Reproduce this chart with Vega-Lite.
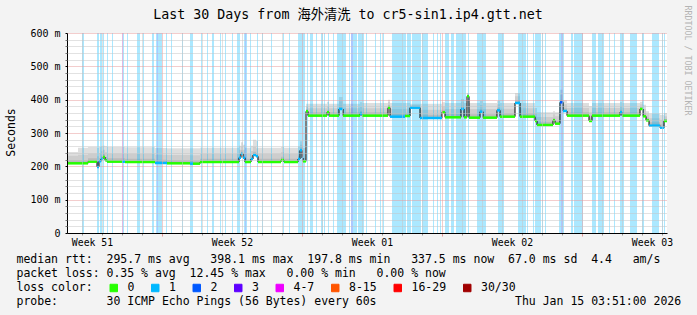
{
  "$schema": "https://vega.github.io/schema/vega-lite/v6.json",
  "width": 600,
  "height": 200,
  "autosize": {"type": "none"},
  "padding": {"left": 67, "top": 33, "right": 30, "bottom": 82},
  "background": "#f3f3f3",
  "config": {"view": {"fill": "#ffffff", "stroke": null}, "font": "DejaVu Sans Mono"},
  "title": {"text": "Last 30 Days from 海外清洗 to cr5-sin1.ip4.gtt.net", "font": "DejaVu Sans Mono, Noto Sans CJK SC", "fontSize": 13.3, "fontWeight": "normal", "color": "#000000", "anchor": "middle", "frame": "group", "dx": -19, "dy": 20},
  "datasets": {
    "smoke": [
      {"d":0,"dn":0.55,"med":209,"a":219,"b":232,"top":243,"loss":"0"},
      {"d":0.55,"dn":1.05,"med":209,"a":219,"b":235,"top":256,"loss":"0"},
      {"d":1.05,"dn":1.5,"med":214,"a":224,"b":238,"top":258,"loss":"0"},
      {"d":1.5,"dn":1.6,"med":198,"a":210,"b":230,"top":256,"loss":"1"},
      {"d":1.6,"dn":1.7,"med":215,"a":225,"b":240,"top":258,"loss":"1"},
      {"d":1.7,"dn":1.8,"med":222,"a":232,"b":245,"top":260,"loss":"1"},
      {"d":1.8,"dn":1.9,"med":228,"a":238,"b":250,"top":262,"loss":"0"},
      {"d":1.9,"dn":2.0,"med":218,"a":228,"b":242,"top":260,"loss":"0"},
      {"d":2.0,"dn":2.75,"med":214,"a":224,"b":238,"top":258,"loss":"0"},
      {"d":2.75,"dn":2.9,"med":214,"a":224,"b":238,"top":258,"loss":"1"},
      {"d":2.9,"dn":4.4,"med":213,"a":223,"b":237,"top":257,"loss":"0"},
      {"d":4.4,"dn":5.0,"med":210,"a":220,"b":235,"top":255,"loss":"1"},
      {"d":5.0,"dn":6.15,"med":209,"a":219,"b":234,"top":254,"loss":"0"},
      {"d":6.15,"dn":6.3,"med":208,"a":218,"b":233,"top":254,"loss":"1"},
      {"d":6.3,"dn":6.65,"med":208,"a":218,"b":233,"top":254,"loss":"0"},
      {"d":6.65,"dn":8.6,"med":213,"a":223,"b":237,"top":256,"loss":"0"},
      {"d":8.6,"dn":8.7,"med":226,"a":236,"b":250,"top":262,"loss":"1"},
      {"d":8.7,"dn":8.8,"med":238,"a":248,"b":260,"top":272,"loss":"1"},
      {"d":8.8,"dn":8.9,"med":226,"a":236,"b":250,"top":265,"loss":"1"},
      {"d":8.9,"dn":9.2,"med":213,"a":223,"b":237,"top":256,"loss":"0"},
      {"d":9.2,"dn":9.3,"med":222,"a":232,"b":246,"top":262,"loss":"1"},
      {"d":9.3,"dn":9.45,"med":234,"a":244,"b":258,"top":280,"loss":"1"},
      {"d":9.45,"dn":9.55,"med":230,"a":240,"b":254,"top":276,"loss":"1"},
      {"d":9.55,"dn":10.7,"med":213,"a":223,"b":237,"top":256,"loss":"0"},
      {"d":10.7,"dn":10.85,"med":219,"a":229,"b":242,"top":258,"loss":"0"},
      {"d":10.85,"dn":11.55,"med":213,"a":223,"b":237,"top":256,"loss":"0"},
      {"d":11.55,"dn":11.65,"med":222,"a":232,"b":246,"top":260,"loss":"1"},
      {"d":11.65,"dn":11.75,"med":248,"a":256,"b":265,"top":275,"loss":"1"},
      {"d":11.75,"dn":11.8,"med":225,"a":235,"b":248,"top":262,"loss":"1"},
      {"d":11.8,"dn":11.95,"med":215,"a":225,"b":240,"top":255,"loss":"0"},
      {"d":11.95,"dn":12.05,"med":365,"a":372,"b":380,"top":388,"loss":"0"},
      {"d":12.05,"dn":13.0,"med":352,"a":362,"b":374,"top":388,"loss":"0"},
      {"d":13.0,"dn":13.1,"med":362,"a":370,"b":380,"top":394,"loss":"0"},
      {"d":13.1,"dn":13.6,"med":352,"a":362,"b":374,"top":388,"loss":"0"},
      {"d":13.6,"dn":13.8,"med":372,"a":382,"b":395,"top":408,"loss":"1"},
      {"d":13.8,"dn":14.65,"med":352,"a":362,"b":374,"top":388,"loss":"0"},
      {"d":14.65,"dn":14.75,"med":358,"a":366,"b":378,"top":392,"loss":"1"},
      {"d":14.75,"dn":16.05,"med":352,"a":362,"b":374,"top":390,"loss":"0"},
      {"d":16.05,"dn":16.15,"med":376,"a":384,"b":392,"top":400,"loss":"0"},
      {"d":16.15,"dn":16.9,"med":349,"a":359,"b":372,"top":390,"loss":"1"},
      {"d":16.9,"dn":17.15,"med":351,"a":361,"b":373,"top":390,"loss":"0"},
      {"d":17.15,"dn":17.65,"med":376,"a":380,"b":384,"top":388,"loss":"1"},
      {"d":17.65,"dn":18.75,"med":345,"a":355,"b":370,"top":388,"loss":"1"},
      {"d":18.75,"dn":18.9,"med":362,"a":370,"b":380,"top":392,"loss":"0"},
      {"d":18.9,"dn":19.7,"med":347,"a":357,"b":372,"top":390,"loss":"0"},
      {"d":19.7,"dn":19.85,"med":372,"a":382,"b":392,"top":402,"loss":"1"},
      {"d":19.85,"dn":20.0,"med":347,"a":357,"b":374,"top":390,"loss":"0"},
      {"d":20.0,"dn":20.1,"med":410,"a":414,"b":418,"top":420,"loss":"0"},
      {"d":20.1,"dn":20.65,"med":346,"a":356,"b":372,"top":390,"loss":"0"},
      {"d":20.65,"dn":20.8,"med":364,"a":372,"b":384,"top":396,"loss":"1"},
      {"d":20.8,"dn":21.5,"med":346,"a":356,"b":372,"top":390,"loss":"0"},
      {"d":21.5,"dn":21.65,"med":368,"a":376,"b":386,"top":396,"loss":"1"},
      {"d":21.65,"dn":22.4,"med":349,"a":359,"b":373,"top":390,"loss":"0"},
      {"d":22.4,"dn":22.65,"med":390,"a":398,"b":410,"top":420,"loss":"1"},
      {"d":22.65,"dn":23.4,"med":349,"a":359,"b":374,"top":390,"loss":"0"},
      {"d":23.4,"dn":23.5,"med":336,"a":346,"b":360,"top":375,"loss":"0"},
      {"d":23.5,"dn":24.3,"med":324,"a":334,"b":348,"top":362,"loss":"0"},
      {"d":24.3,"dn":24.4,"med":338,"a":346,"b":356,"top":365,"loss":"0"},
      {"d":24.4,"dn":24.65,"med":328,"a":336,"b":350,"top":362,"loss":"0"},
      {"d":24.65,"dn":24.8,"med":392,"a":400,"b":415,"top":430,"loss":"2"},
      {"d":24.8,"dn":25.0,"med":366,"a":374,"b":386,"top":398,"loss":"1"},
      {"d":25.0,"dn":26.1,"med":352,"a":362,"b":375,"top":390,"loss":"0"},
      {"d":26.1,"dn":26.25,"med":336,"a":346,"b":362,"top":380,"loss":"0"},
      {"d":26.25,"dn":27.65,"med":352,"a":362,"b":375,"top":390,"loss":"0"},
      {"d":27.65,"dn":27.75,"med":362,"a":370,"b":380,"top":392,"loss":"1"},
      {"d":27.75,"dn":28.65,"med":352,"a":362,"b":375,"top":390,"loss":"0"},
      {"d":28.65,"dn":28.8,"med":372,"a":378,"b":386,"top":394,"loss":"0"},
      {"d":28.8,"dn":28.95,"med":350,"a":360,"b":372,"top":385,"loss":"0"},
      {"d":28.95,"dn":29.1,"med":338,"a":346,"b":356,"top":365,"loss":"0"},
      {"d":29.1,"dn":29.65,"med":322,"a":332,"b":344,"top":358,"loss":"1"},
      {"d":29.65,"dn":29.85,"med":316,"a":326,"b":340,"top":355,"loss":"1"},
      {"d":29.85,"dn":30.0,"med":336,"a":342,"b":350,"top":360,"loss":"0"},
      {"d":30.0,"dn":30.0,"med":336,"a":342,"b":350,"top":360,"loss":"0"}
    ],
    "stripes": [
      {"d0":0.75,"d1":0.85,"loss":"1"},{"d0":1.5,"d1":1.6,"loss":"1"},{"d0":1.65,"d1":1.75,"loss":"1"},
      {"d0":1.8,"d1":1.85,"loss":"1"},{"d0":2.0,"d1":2.05,"loss":"1"},{"d0":2.25,"d1":2.3,"loss":"1"},
      {"d0":2.75,"d1":2.8,"loss":"4-7"},{"d0":2.8,"d1":2.85,"loss":"1"},{"d0":3.0,"d1":3.05,"loss":"1"},
      {"d0":3.5,"d1":3.65,"loss":"1"},{"d0":3.8,"d1":3.85,"loss":"1"},{"d0":4.25,"d1":4.35,"loss":"1"},
      {"d0":4.45,"d1":4.5,"loss":"1"},{"d0":4.5,"d1":4.55,"loss":"2"},{"d0":4.55,"d1":4.75,"loss":"1"},
      {"d0":4.95,"d1":5.0,"loss":"1"},{"d0":5.2,"d1":5.25,"loss":"1"},{"d0":5.75,"d1":5.8,"loss":"1"},
      {"d0":6.15,"d1":6.3,"loss":"1"},{"d0":6.7,"d1":6.75,"loss":"1"},{"d0":7.0,"d1":7.05,"loss":"1"},
      {"d0":7.25,"d1":7.35,"loss":"1"},{"d0":7.65,"d1":7.7,"loss":"1"},{"d0":7.9,"d1":7.95,"loss":"1"},
      {"d0":8.25,"d1":8.3,"loss":"1"},{"d0":8.5,"d1":8.65,"loss":"1"},{"d0":8.85,"d1":8.9,"loss":"1"},
      {"d0":8.9,"d1":8.95,"loss":"2"},{"d0":8.95,"d1":9.0,"loss":"1"},{"d0":9.15,"d1":9.2,"loss":"1"},
      {"d0":9.5,"d1":9.55,"loss":"1"},{"d0":9.75,"d1":9.8,"loss":"1"},{"d0":10.2,"d1":10.25,"loss":"1"},
      {"d0":10.8,"d1":10.85,"loss":"1"},{"d0":11.1,"d1":11.15,"loss":"1"},{"d0":11.55,"d1":11.9,"loss":"1"},
      {"d0":12.0,"d1":12.05,"loss":"1"},{"d0":12.15,"d1":12.3,"loss":"1"},{"d0":12.45,"d1":12.5,"loss":"1"},
      {"d0":12.7,"d1":12.8,"loss":"1"},{"d0":12.85,"d1":12.9,"loss":"1"},{"d0":13.05,"d1":13.1,"loss":"1"},
      {"d0":13.3,"d1":13.35,"loss":"1"},{"d0":13.5,"d1":13.95,"loss":"1"},{"d0":14.1,"d1":14.15,"loss":"1"},
      {"d0":14.2,"d1":14.3,"loss":"2"},{"d0":14.3,"d1":14.5,"loss":"1"},{"d0":14.55,"d1":14.85,"loss":"1"},
      {"d0":14.95,"d1":15.0,"loss":"1"},{"d0":15.4,"d1":15.45,"loss":"1"},{"d0":15.65,"d1":15.7,"loss":"1"},
      {"d0":15.8,"d1":15.85,"loss":"1"},{"d0":16.25,"d1":16.95,"loss":"1"},{"d0":17.0,"d1":17.2,"loss":"1"},
      {"d0":17.25,"d1":17.7,"loss":"1"},{"d0":17.75,"d1":18.05,"loss":"1"},{"d0":18.3,"d1":18.35,"loss":"1"},
      {"d0":18.5,"d1":18.55,"loss":"1"},{"d0":18.65,"d1":18.7,"loss":"1"},{"d0":18.9,"d1":19.1,"loss":"1"},
      {"d0":19.2,"d1":19.35,"loss":"1"},{"d0":19.45,"d1":19.95,"loss":"1"},{"d0":20.05,"d1":20.1,"loss":"1"},
      {"d0":20.5,"d1":20.95,"loss":"1"},{"d0":21.55,"d1":21.85,"loss":"1"},{"d0":22.55,"d1":22.95,"loss":"1"},
      {"d0":23.0,"d1":23.05,"loss":"1"},{"d0":23.3,"d1":23.35,"loss":"1"},{"d0":23.4,"d1":23.7,"loss":"1"},
      {"d0":23.75,"d1":23.8,"loss":"1"},{"d0":23.9,"d1":23.95,"loss":"1"},{"d0":24.6,"d1":24.7,"loss":"1"},
      {"d0":24.7,"d1":24.8,"loss":"2"},{"d0":24.8,"d1":24.85,"loss":"1"},{"d0":25.2,"d1":25.3,"loss":"1"},
      {"d0":25.35,"d1":25.8,"loss":"1"},{"d0":26.25,"d1":26.45,"loss":"1"},{"d0":26.55,"d1":26.85,"loss":"1"},
      {"d0":27.1,"d1":27.15,"loss":"1"},{"d0":27.35,"d1":27.4,"loss":"1"},{"d0":27.65,"d1":27.85,"loss":"1"},
      {"d0":28.15,"d1":28.5,"loss":"1"},{"d0":28.75,"d1":28.85,"loss":"1"},{"d0":29.25,"d1":29.6,"loss":"1"},
      {"d0":29.75,"d1":29.8,"loss":"1"},{"d0":29.85,"d1":29.9,"loss":"1"}
    ]
  },
  "layer": [
    {
      "data": {"name": "smoke"},
      "mark": {"type": "area", "interpolate": "step-after", "color": "#dedede"},
      "encoding": {
        "x": {"field": "d", "type": "quantitative", "scale": {"domain": [0, 30], "nice": false, "zero": false},
          "axis": {"orient": "bottom", "values": [4.75, 11.75, 18.75, 25.75], "grid": true, "gridColor": "#e69a9a", "gridDash": [1, 1], "gridWidth": 1, "labels": false, "ticks": true, "tickSize": 3, "tickColor": "#e69a9a", "domain": false, "title": null, "zindex": 1}},
        "y": {"field": "med", "type": "quantitative", "scale": {"domain": [0, 600], "nice": false},
          "axis": {"orient": "left", "values": [0, 100, 200, 300, 400, 500, 600], "labelExpr": "datum.value == 0 ? '0\u00a0\u00a0' : datum.value + '\u00a0m'", "grid": true, "gridColor": "#e69a9a", "gridDash": [1, 1], "ticks": true, "tickSize": 2, "tickColor": "#000000", "domain": true, "domainColor": "#000000", "domainWidth": 1, "labelFont": "DejaVu Sans Mono", "labelFontSize": 10, "labelPadding": 5, "labelColor": "#000000", "labelFlush": false, "labelOverlap": false, "title": "Seconds", "titleFont": "DejaVu Sans Mono", "titleFontSize": 11.5, "titleFontWeight": "normal", "titleColor": "#000000", "titleX": -56, "titleY": 99, "titleAngle": 270, "titleAlign": "center", "titleBaseline": "middle", "zindex": 1}},
        "y2": {"field": "top"}
      }
    },
    {
      "data": {"name": "smoke"},
      "mark": {"type": "area", "interpolate": "step-after", "color": "#cdcdcd"},
      "encoding": {
        "x": {"field": "d", "type": "quantitative", "scale": {"domain": [0, 30], "nice": false, "zero": false},
          "axis": {"orient": "bottom", "values": [0.75, 1.75, 2.75, 3.75, 5.75, 6.75, 7.75, 8.75, 9.75, 10.75, 12.75, 13.75, 14.75, 15.75, 16.75, 17.75, 19.75, 20.75, 21.75, 22.75, 23.75, 24.75, 26.75, 27.75, 28.75, 29.75], "grid": true, "gridColor": "#c4c4c4", "gridDash": [1, 1], "gridWidth": 1, "labels": false, "ticks": true, "tickSize": 2, "tickColor": "#999999", "domain": true, "domainColor": "#000000", "domainWidth": 1, "title": null, "zindex": 1}},
        "y": {"field": "med", "type": "quantitative", "scale": {"domain": [0, 600], "nice": false},
          "axis": {"orient": "left", "values": [20, 40, 60, 80, 120, 140, 160, 180, 220, 240, 260, 280, 320, 340, 360, 380, 420, 440, 460, 480, 520, 540, 560, 580], "grid": true, "gridColor": "#c4c4c4", "gridDash": [1, 1], "ticks": true, "tickSize": 2, "tickColor": "#777777", "labels": false, "domain": false, "title": "RRDTOOL / TOBI OETIKER", "titleFont": "DejaVu Sans Mono", "titleFontSize": 8.3, "titleFontWeight": "normal", "titleColor": "#b4b4b4", "titleAngle": 90, "titleX": 619, "titleY": 27, "titleAlign": "center", "titleBaseline": "middle", "zindex": 1}},
        "y2": {"field": "b"}
      }
    },
    {
      "data": {"name": "smoke"},
      "mark": {"type": "area", "interpolate": "step-after", "color": "#bababa"},
      "encoding": {
        "x": {"field": "d", "type": "quantitative", "scale": {"domain": [0, 30], "nice": false, "zero": false},
          "axis": {"orient": "bottom", "values": [1.25, 8.25, 15.25, 22.25, 29.25], "labelExpr": "datum.value < 5 ? 'Week 51' : datum.value < 12 ? 'Week 52' : datum.value < 19 ? 'Week 01' : datum.value < 26 ? 'Week 02' : 'Week 03'", "grid": false, "ticks": false, "domain": false, "labelPadding": 4, "labelFont": "DejaVu Sans Mono", "labelFontSize": 9.8, "labelColor": "#000000", "labelFlush": false, "labelOverlap": false, "labelBound": false,
            "title": ["median rtt:\u00a0\u00a0295.7 ms avg\u00a0\u00a0\u00a0398.1 ms max\u00a0\u00a0197.8 ms min\u00a0\u00a0\u00a0337.5 ms now\u00a0\u00a067.0 ms sd\u00a0\u00a04.4\u00a0\u00a0\u00a0am/s", "packet loss: 0.35 % avg\u00a0\u00a012.45 % max\u00a0\u00a0\u00a00.00 % min\u00a0\u00a0\u00a00.00 % now", "loss color:", "probe:\u00a0\u00a0\u00a0\u00a0\u00a0\u00a0\u00a030 ICMP Echo Pings (56 Bytes) every 60s\u00a0\u00a0\u00a0\u00a0\u00a0\u00a0\u00a0\u00a0\u00a0\u00a0\u00a0\u00a0\u00a0\u00a0\u00a0\u00a0\u00a0\u00a0\u00a0\u00a0Thu Jan 15 03:51:00 2026"],
            "titleFont": "DejaVu Sans Mono", "titleFontSize": 11.5, "titleFontWeight": "normal", "titleColor": "#000000", "titleAlign": "left", "titleAnchor": "start", "titleBaseline": "top", "titleX": -51, "titleY": 20, "titleLineHeight": 14}},
        "y": {"field": "med", "type": "quantitative", "scale": {"domain": [0, 600], "nice": false}, "axis": null},
        "y2": {"field": "a"}
      }
    },
    {
      "data": {"name": "stripes"},
      "mark": {"type": "rect", "opacity": 0.33},
      "encoding": {
        "x": {"field": "d0", "type": "quantitative", "scale": {"domain": [0, 30], "nice": false, "zero": false}, "axis": null},
        "x2": {"field": "d1"},
        "color": {"field": "loss", "type": "nominal",
          "scale": {"domain": ["0", "1", "2", "3", "4-7", "8-15", "16-29", "30/30"], "range": ["#26ff00", "#00b8ff", "#0059ff", "#5e00ff", "#ee00ff", "#ff5500", "#ff0000", "#a00000"]},
          "legend": {"orient": "none", "legendX": 41, "legendY": 249, "direction": "horizontal", "title": null, "symbolType": "square", "symbolSize": 56, "symbolStrokeColor": "#000000", "symbolStrokeWidth": 1, "symbolOpacity": 1, "labelFont": "DejaVu Sans Mono", "labelFontSize": 11.5, "labelColor": "#000000", "labelOffset": 8, "columnPadding": 14.5, "padding": 0}}
      }
    },
    {
      "data": {"name": "smoke"},
      "mark": {"type": "line", "interpolate": "step-after", "color": "#000000", "strokeWidth": 1},
      "encoding": {
        "x": {"field": "d", "type": "quantitative", "scale": {"domain": [0, 30], "nice": false, "zero": false}, "axis": null},
        "y": {"field": "med", "type": "quantitative", "scale": {"domain": [0, 600], "nice": false}, "axis": null}
      }
    },
    {
      "data": {"name": "smoke"},
      "mark": {"type": "rule", "strokeWidth": 2.5},
      "encoding": {
        "x": {"field": "d", "type": "quantitative", "scale": {"domain": [0, 30], "nice": false, "zero": false}, "axis": null},
        "x2": {"field": "dn"},
        "y": {"field": "med", "type": "quantitative", "scale": {"domain": [0, 600], "nice": false}, "axis": null},
        "stroke": {"field": "loss", "type": "nominal",
          "scale": {"domain": ["0", "1", "2", "3", "4-7", "8-15", "16-29", "30/30"], "range": ["#26ff00", "#00b8ff", "#0059ff", "#5e00ff", "#ee00ff", "#ff5500", "#ff0000", "#a00000"]},
          "legend": null}
      }
    },
    {
      "mark": {"type": "point", "shape": "triangle-right", "filled": true, "color": "#800000", "size": 30, "opacity": 1},
      "encoding": {
        "x": {"datum": 30.2, "type": "quantitative", "scale": {"domain": [0, 30], "nice": false, "zero": false}, "axis": null},
        "y": {"datum": 0, "type": "quantitative", "scale": {"domain": [0, 600], "nice": false}, "axis": null}
      }
    },
    {
      "mark": {"type": "point", "shape": "triangle-up", "filled": true, "color": "#800000", "size": 30, "opacity": 1},
      "encoding": {
        "x": {"datum": 0, "type": "quantitative", "scale": {"domain": [0, 30], "nice": false, "zero": false}, "axis": null},
        "y": {"datum": 613, "type": "quantitative", "scale": {"domain": [0, 600], "nice": false}, "axis": null}
      }
    }
  ],
  "resolve": {"axis": {"x": "independent", "y": "independent"}}
}
